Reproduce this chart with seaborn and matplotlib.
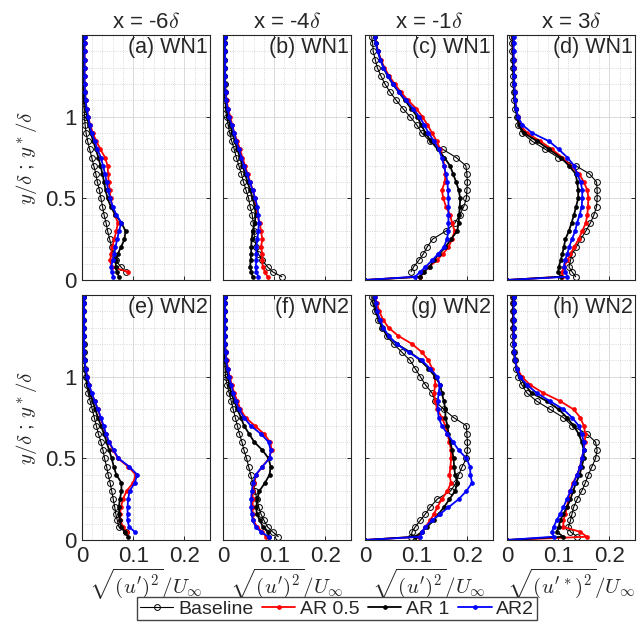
import numpy as np
import pandas as pd
import matplotlib
matplotlib.use("Agg")
import matplotlib.pyplot as plt
from matplotlib.lines import Line2D
from matplotlib.ticker import MultipleLocator, FixedLocator, FuncFormatter
import seaborn as sns

nan = np.nan

# wall-normal stations y/delta shared by all profiles
y_levels = [0, 0.02, 0.05, 0.08, 0.12, 0.16, 0.20, 0.25, 0.30, 0.35, 0.40, 0.45, 0.50,
            0.55, 0.60, 0.65, 0.70, 0.75, 0.80, 0.85, 0.90, 0.95, 1.00, 1.05, 1.10,
            1.15, 1.20, 1.25, 1.30, 1.35, 1.40, 1.45, 1.49]

col_titles = ["x = -6$\\delta$", "x = -4$\\delta$", "x = -1$\\delta$", "x = 3$\\delta$"]
panel_tags = ["(a) WN1", "(b) WN1", "(c) WN1", "(d) WN1",
              "(e) WN2", "(f) WN2", "(g) WN2", "(h) WN2"]
x_labels = [r"$\sqrt{(u')^2}/U_\infty$"] * 3 + [r"$\sqrt{(u'^*)^2}/U_\infty$"]
series_names = ["Baseline", "AR 0.5", "AR 1", "AR2"]

# ---- (a) x=-6d WN1 ----
base_a = [nan, nan, 0.085, 0.076, 0.066, 0.061, 0.058, 0.054, 0.050, 0.047, 0.043, 0.040, 0.037, 0.034, 0.030, 0.027, 0.023, 0.019, 0.015, 0.011, 0.008, 0.006, 0.005, 0.004, 0.003, 0.003, 0.002, 0.002, 0.002, 0.002, 0.002, 0.002, 0.002]
ar05_a = [nan, nan, 0.090, 0.058, 0.055, 0.057, 0.059, 0.063, 0.067, 0.070, 0.064, 0.059, 0.056, 0.054, 0.052, 0.051, 0.050, 0.045, 0.036, 0.028, 0.021, 0.016, 0.012, 0.009, 0.007, 0.006, 0.005, 0.005, 0.005, 0.005, 0.005, 0.005, 0.005]
ar1_a = [nan, 0.072, 0.068, 0.066, 0.066, 0.070, 0.076, 0.083, 0.085, 0.077, 0.065, 0.056, 0.050, 0.046, 0.043, 0.040, 0.036, 0.032, 0.027, 0.022, 0.017, 0.013, 0.010, 0.007, 0.005, 0.004, 0.004, 0.004, 0.004, 0.004, 0.004, 0.004, 0.004]
ar2_a = [nan, 0.061, 0.058, 0.057, 0.060, 0.063, 0.065, 0.069, 0.072, 0.077, 0.067, 0.060, 0.055, 0.051, 0.048, 0.045, 0.041, 0.037, 0.030, 0.025, 0.019, 0.015, 0.012, 0.009, 0.007, 0.006, 0.005, 0.005, 0.005, 0.005, 0.005, 0.005, 0.005]

# ---- (b) x=-4d WN1 ----
base_b = [nan, 0.115, 0.097, 0.087, 0.077, 0.069, 0.065, 0.062, 0.060, 0.059, 0.057, 0.053, 0.050, 0.045, 0.040, 0.036, 0.031, 0.026, 0.022, 0.017, 0.013, 0.010, 0.007, 0.005, 0.004, 0.003, 0.003, 0.002, 0.002, 0.002, 0.002, 0.002, 0.002]
ar05_b = [nan, 0.087, 0.082, 0.078, 0.076, 0.077, 0.074, 0.077, 0.074, 0.072, 0.066, 0.064, 0.062, 0.058, 0.053, 0.048, 0.043, 0.038, 0.033, 0.028, 0.022, 0.018, 0.014, 0.010, 0.007, 0.005, 0.004, 0.004, 0.004, 0.004, 0.004, 0.004, 0.004]
ar1_b = [nan, 0.058, 0.055, 0.053, 0.054, 0.055, 0.055, 0.056, 0.058, 0.062, 0.064, 0.062, 0.058, 0.053, 0.048, 0.043, 0.038, 0.033, 0.028, 0.023, 0.018, 0.014, 0.010, 0.007, 0.005, 0.004, 0.003, 0.003, 0.003, 0.003, 0.003, 0.003, 0.003]
ar2_b = [nan, 0.069, 0.065, 0.064, 0.065, 0.065, 0.065, 0.067, 0.069, 0.070, 0.069, 0.067, 0.063, 0.058, 0.052, 0.047, 0.041, 0.036, 0.031, 0.026, 0.022, 0.017, 0.012, 0.009, 0.006, 0.005, 0.004, 0.004, 0.004, 0.004, 0.004, 0.004, 0.004]

# ---- (c) x=-1d WN1 ----
base_c = [nan, nan, 0.090, 0.095, 0.105, 0.114, 0.121, 0.132, 0.158, 0.176, 0.185, 0.193, 0.198, 0.199, 0.200, 0.199, 0.197, 0.178, 0.152, 0.127, 0.111, 0.101, 0.088, 0.074, 0.061, 0.049, 0.039, 0.031, 0.024, 0.020, 0.016, 0.015, 0.013]
ar05_c = [0, 0.108, 0.114, 0.125, 0.140, 0.152, 0.163, 0.170, 0.175, 0.170, 0.166, 0.158, 0.153, 0.150, 0.156, 0.157, 0.155, 0.152, 0.147, 0.140, 0.131, 0.122, 0.112, 0.100, 0.084, 0.070, 0.058, 0.047, 0.038, 0.031, 0.026, 0.022, 0.020]
ar1_c = [0, 0.108, 0.115, 0.126, 0.134, 0.145, 0.157, 0.168, 0.180, 0.183, 0.184, 0.185, 0.186, 0.183, 0.178, 0.172, 0.166, 0.155, 0.142, 0.129, 0.118, 0.110, 0.102, 0.090, 0.078, 0.066, 0.054, 0.044, 0.036, 0.030, 0.025, 0.021, 0.019]
ar2_c = [0, 0.098, 0.108, 0.118, 0.131, 0.143, 0.154, 0.160, 0.163, 0.163, 0.163, 0.163, 0.163, 0.162, 0.161, 0.158, 0.154, 0.150, 0.144, 0.135, 0.124, 0.116, 0.106, 0.094, 0.080, 0.067, 0.055, 0.045, 0.036, 0.030, 0.025, 0.021, 0.019]

# ---- (d) x=3d WN1 ----
base_d = [nan, 0.134, 0.127, 0.121, 0.124, 0.127, 0.135, 0.144, 0.154, 0.163, 0.170, 0.175, 0.176, 0.176, 0.175, 0.161, 0.134, 0.100, 0.075, 0.049, 0.030, 0.022, 0.019, 0.016, 0.014, 0.013, 0.012, 0.012, 0.011, 0.011, 0.010, 0.010, 0.010]
ar05_d = [0, 0.108, 0.108, 0.111, 0.118, 0.124, 0.131, 0.140, 0.147, 0.154, 0.157, 0.158, 0.159, 0.157, 0.150, 0.141, 0.124, 0.108, 0.088, 0.065, 0.039, 0.026, 0.021, 0.018, 0.016, 0.015, 0.014, 0.014, 0.013, 0.013, 0.012, 0.012, 0.012]
ar1_d = [0, 0.105, 0.100, 0.101, 0.105, 0.108, 0.111, 0.114, 0.121, 0.126, 0.131, 0.135, 0.139, 0.139, 0.137, 0.134, 0.121, 0.105, 0.082, 0.059, 0.033, 0.024, 0.020, 0.017, 0.015, 0.014, 0.013, 0.013, 0.012, 0.012, 0.012, 0.012, 0.012]
ar2_d = [0, 0.118, 0.114, 0.111, 0.113, 0.118, 0.121, 0.127, 0.133, 0.137, 0.142, 0.146, 0.147, 0.147, 0.144, 0.137, 0.131, 0.118, 0.101, 0.082, 0.049, 0.030, 0.021, 0.018, 0.016, 0.015, 0.014, 0.014, 0.013, 0.013, 0.013, 0.013, 0.013]

# ---- (e) x=-6d WN2 ----
base_e = [nan, nan, 0.085, 0.072, 0.069, 0.066, 0.064, 0.061, 0.058, 0.055, 0.051, 0.048, 0.044, 0.041, 0.037, 0.032, 0.028, 0.024, 0.020, 0.016, 0.012, 0.009, 0.007, 0.005, 0.004, 0.003, 0.003, 0.002, 0.002, 0.002, 0.002, 0.002, 0.002]
ar05_e = [nan, nan, 0.087, 0.080, 0.075, 0.074, 0.076, 0.080, 0.087, 0.100, 0.105, 0.090, 0.070, 0.061, 0.052, 0.046, 0.041, 0.036, 0.031, 0.025, 0.018, 0.014, 0.010, 0.007, 0.005, 0.004, 0.004, 0.004, 0.004, 0.004, 0.004, 0.004, 0.004]
ar1_e = [nan, 0.090, 0.084, 0.076, 0.074, 0.073, 0.072, 0.074, 0.077, 0.077, 0.067, 0.062, 0.058, 0.053, 0.048, 0.043, 0.037, 0.031, 0.026, 0.021, 0.015, 0.011, 0.008, 0.006, 0.005, 0.004, 0.004, 0.004, 0.004, 0.004, 0.004, 0.004, 0.004]
ar2_e = [nan, nan, 0.103, 0.092, 0.089, 0.089, 0.089, 0.090, 0.093, 0.103, 0.108, 0.092, 0.071, 0.062, 0.053, 0.047, 0.042, 0.037, 0.031, 0.025, 0.019, 0.014, 0.010, 0.007, 0.005, 0.004, 0.004, 0.004, 0.004, 0.004, 0.004, 0.004, 0.004]

# ---- (f) x=-4d WN2 ----
base_f = [nan, 0.108, 0.097, 0.087, 0.080, 0.074, 0.070, 0.066, 0.063, 0.058, 0.054, 0.050, 0.046, 0.041, 0.037, 0.032, 0.028, 0.024, 0.020, 0.016, 0.012, 0.008, 0.005, 0.004, 0.003, 0.003, 0.002, 0.002, 0.002, 0.002, 0.002, 0.002, 0.002]
ar05_f = [nan, 0.084, 0.077, 0.067, 0.059, 0.058, 0.058, 0.058, 0.058, 0.061, 0.065, 0.077, 0.090, 0.095, 0.092, 0.080, 0.062, 0.044, 0.034, 0.028, 0.022, 0.017, 0.013, 0.010, 0.007, 0.005, 0.004, 0.004, 0.004, 0.004, 0.004, 0.004, 0.004]
ar1_f = [nan, 0.090, 0.087, 0.078, 0.072, 0.066, 0.065, 0.067, 0.071, 0.082, 0.091, 0.093, 0.089, 0.077, 0.061, 0.051, 0.041, 0.035, 0.028, 0.022, 0.016, 0.012, 0.010, 0.007, 0.005, 0.004, 0.003, 0.003, 0.003, 0.003, 0.003, 0.003, 0.003]
ar2_f = [nan, 0.089, 0.074, 0.064, 0.058, 0.056, 0.055, 0.055, 0.056, 0.059, 0.064, 0.077, 0.091, 0.093, 0.089, 0.074, 0.054, 0.041, 0.031, 0.025, 0.020, 0.016, 0.012, 0.009, 0.006, 0.005, 0.004, 0.004, 0.004, 0.004, 0.004, 0.004, 0.004]

# ---- (g) x=-1d WN2 ----
base_g = [nan, 0.090, 0.092, 0.098, 0.108, 0.118, 0.127, 0.141, 0.167, 0.178, 0.183, 0.190, 0.198, 0.200, 0.200, 0.199, 0.198, 0.173, 0.154, 0.137, 0.131, 0.118, 0.108, 0.098, 0.088, 0.072, 0.056, 0.042, 0.033, 0.026, 0.020, 0.015, 0.013]
ar05_g = [0, 0.105, 0.111, 0.118, 0.127, 0.135, 0.141, 0.150, 0.161, 0.168, 0.165, 0.167, 0.168, 0.168, 0.165, 0.161, 0.157, 0.150, 0.141, 0.137, 0.135, 0.137, 0.137, 0.131, 0.124, 0.111, 0.092, 0.065, 0.046, 0.035, 0.028, 0.023, 0.020]
ar1_g = [0, 0.098, 0.111, 0.121, 0.134, 0.144, 0.154, 0.165, 0.176, 0.180, 0.176, 0.174, 0.173, 0.170, 0.167, 0.163, 0.161, 0.157, 0.157, 0.154, 0.150, 0.147, 0.137, 0.124, 0.108, 0.088, 0.062, 0.044, 0.034, 0.027, 0.022, 0.019, 0.018]
ar2_g = [0, 0.108, 0.111, 0.118, 0.131, 0.147, 0.163, 0.183, 0.198, 0.209, 0.206, 0.205, 0.198, 0.183, 0.172, 0.161, 0.150, 0.144, 0.142, 0.142, 0.144, 0.146, 0.141, 0.127, 0.111, 0.085, 0.062, 0.046, 0.036, 0.029, 0.024, 0.021, 0.020]

# ---- (h) x=3d WN2 ----
base_h = [nan, 0.137, 0.124, 0.120, 0.124, 0.127, 0.130, 0.137, 0.146, 0.153, 0.159, 0.166, 0.173, 0.176, 0.173, 0.156, 0.127, 0.110, 0.084, 0.058, 0.039, 0.029, 0.022, 0.018, 0.015, 0.013, 0.012, 0.012, 0.011, 0.011, 0.011, 0.011, 0.011]
ar05_h = [0, 0.156, 0.143, 0.110, 0.110, 0.114, 0.117, 0.120, 0.124, 0.129, 0.137, 0.143, 0.146, 0.150, 0.152, 0.153, 0.150, 0.143, 0.130, 0.104, 0.071, 0.045, 0.029, 0.020, 0.016, 0.014, 0.013, 0.013, 0.012, 0.012, 0.012, 0.012, 0.012]
ar1_h = [0, 0.110, 0.097, 0.101, 0.104, 0.110, 0.117, 0.124, 0.129, 0.135, 0.142, 0.146, 0.150, 0.150, 0.146, 0.140, 0.130, 0.117, 0.101, 0.078, 0.048, 0.035, 0.025, 0.019, 0.016, 0.014, 0.013, 0.013, 0.012, 0.012, 0.012, 0.012, 0.012]
ar2_h = [0, 0.091, 0.088, 0.091, 0.097, 0.104, 0.110, 0.117, 0.124, 0.130, 0.137, 0.143, 0.146, 0.150, 0.150, 0.146, 0.140, 0.127, 0.110, 0.084, 0.058, 0.039, 0.025, 0.019, 0.016, 0.014, 0.013, 0.013, 0.013, 0.013, 0.013, 0.013, 0.013]

panels = [
    [base_a, ar05_a, ar1_a, ar2_a], [base_b, ar05_b, ar1_b, ar2_b],
    [base_c, ar05_c, ar1_c, ar2_c], [base_d, ar05_d, ar1_d, ar2_d],
    [base_e, ar05_e, ar1_e, ar2_e], [base_f, ar05_f, ar1_f, ar2_f],
    [base_g, ar05_g, ar1_g, ar2_g], [base_h, ar05_h, ar1_h, ar2_h],
]

# line styles: baseline open circles, the rest small dots
styles = [
    dict(color="black", marker="o", markersize=4.2, markerfacecolor="none",
         markeredgecolor="black", markeredgewidth=0.7, linewidth=0.8),
    dict(color="red", marker="o", markersize=2.8, markerfacecolor="red",
         markeredgecolor="red", markeredgewidth=0.5, linewidth=1.3),
    dict(color="black", marker="o", markersize=2.8, markerfacecolor="black",
         markeredgecolor="black", markeredgewidth=0.5, linewidth=1.3),
    dict(color="blue", marker="o", markersize=2.8, markerfacecolor="blue",
         markeredgecolor="blue", markeredgewidth=0.5, linewidth=1.3),
]

sns.set_theme(style="ticks")
plt.rcParams["font.family"] = ["Liberation Sans", "DejaVu Sans"]
plt.rcParams["mathtext.fontset"] = "cm"
FS_TICK = 16
FS_TITLE = 16
FS_TAG = 15.5
FS_XLAB = 15
FS_LEG = 14

fig = plt.figure(figsize=(6.4, 6.3), dpi=100)
W, H = 640.0, 630.0
lefts = [82, 223, 365, 507]
bottoms = [280, 540]
aw, ah = 128, 245

for k, profiles in enumerate(panels):
    r, c = divmod(k, 4)
    ax = fig.add_axes([lefts[c] / W, (H - bottoms[r]) / H, aw / W, ah / H])
    for prof, st in zip(profiles, styles):
        df = pd.DataFrame({"u": prof, "y": y_levels}).dropna()
        sns.lineplot(data=df, x="u", y="y", sort=False, estimator=None, ax=ax, **st)

    ax.set_xlim(0, 0.25)
    ax.set_ylim(0, 1.5)
    ax.xaxis.set_major_locator(FixedLocator([0, 0.1, 0.2]))
    ax.yaxis.set_major_locator(FixedLocator([0, 0.5, 1]))
    ax.xaxis.set_minor_locator(MultipleLocator(0.02))
    ax.yaxis.set_minor_locator(MultipleLocator(0.1))
    ax.xaxis.set_major_formatter(FuncFormatter(lambda v, p: f"{v:g}"))
    ax.yaxis.set_major_formatter(FuncFormatter(lambda v, p: f"{v:g}"))
    ax.grid(which="major", color="#d4d4d4", linestyle="-", linewidth=0.6)
    ax.grid(which="minor", color="#cccccc", linestyle=":", linewidth=0.6)
    ax.set_axisbelow(True)
    ax.tick_params(which="major", direction="in", length=3, width=0.7,
                   top=True, right=True, labelsize=FS_TICK, pad=4, colors="#262626")
    ax.tick_params(which="minor", length=0)
    for sp in ax.spines.values():
        sp.set_color("#262626")
        sp.set_linewidth(0.8)

    ax.set_xlabel("")
    ax.set_ylabel("")
    if r == 0:
        ax.tick_params(labelbottom=False)
        ax.set_title(col_titles[c], fontsize=FS_TITLE, pad=5)
    else:
        ax.set_xlabel(x_labels[c], fontsize=FS_XLAB, labelpad=0)
    if c == 0:
        ax.set_ylabel(r"$y/\delta$ ; $y^*/\delta$", fontsize=FS_XLAB, labelpad=5)
    else:
        ax.tick_params(labelleft=False)

    ax.text(0.985, 0.95, panel_tags[k], transform=ax.transAxes, ha="right",
            va="center", fontsize=FS_TAG)

handles = [Line2D([], [], **st) for st in styles]
fig.legend(handles, series_names, loc="upper center", ncol=4,
           bbox_to_anchor=(0.527, 1 - 597 / H), fontsize=FS_LEG, frameon=True,
           fancybox=False, edgecolor="#444444", framealpha=1,
           handlelength=1.7, handletextpad=0.25, columnspacing=0.45,
           borderpad=0.15, borderaxespad=0)

fig.savefig("out.png", dpi=100)
